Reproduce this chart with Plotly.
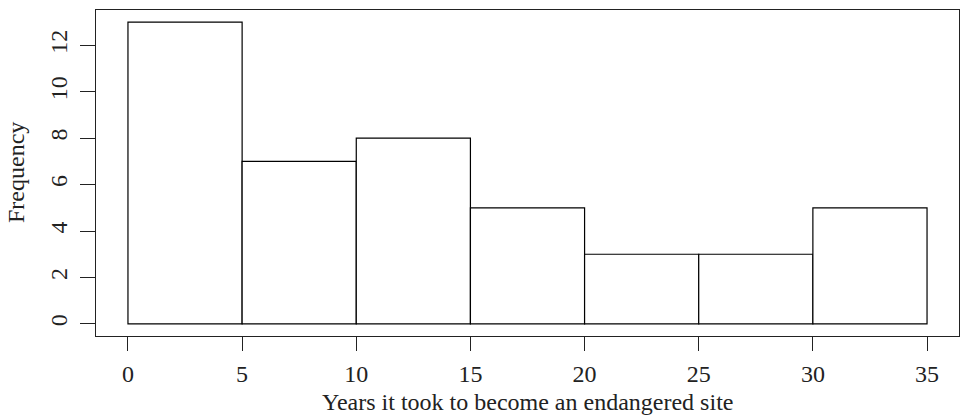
import plotly.graph_objects as go

bin_edges = [0, 5, 10, 15, 20, 25, 30, 35]
counts = [13, 7, 8, 5, 3, 3, 5]
x_ticks = [0, 5, 10, 15, 20, 25, 30, 35]
y_ticks = [0, 2, 4, 6, 8, 10, 12]
x_title = "Years it took to become an endangered site"
y_title = "Frequency"

centers = [(bin_edges[i] + bin_edges[i + 1]) / 2 for i in range(len(counts))]
widths = [bin_edges[i + 1] - bin_edges[i] for i in range(len(counts))]

FONT = "Liberation Serif, Times New Roman, serif"

fig = go.Figure(go.Bar(
    x=centers, y=counts, width=widths,
    marker=dict(color="white", line=dict(color="black", width=1.2)),
))

xr = [bin_edges[0] - 0.04 * (bin_edges[-1] - bin_edges[0]), bin_edges[-1] + 0.04 * (bin_edges[-1] - bin_edges[0])]
ymax = max(counts)
yr = [-0.04 * ymax, ymax * 1.04]

fig.update_layout(
    width=962, height=418,
    margin=dict(l=96, r=3, t=10, b=82, autoexpand=False),
    paper_bgcolor="white", plot_bgcolor="white",
    font=dict(family=FONT, size=24, color="#222222"),
    showlegend=False,
    xaxis=dict(range=xr, tickvals=x_ticks, ticks="outside", ticklen=14, tickwidth=1.2,
               tickcolor="#222222", showline=True, mirror=True, linecolor="#222222",
               linewidth=1.2, showgrid=False, zeroline=False, ticklabelstandoff=2,
               tickfont=dict(size=24)),
    yaxis=dict(range=yr, tickvals=y_ticks, ticks="outside", ticklen=15, tickwidth=1.2,
               tickcolor="#222222", showline=True, mirror=True, linecolor="#222222",
               linewidth=1.2, showgrid=False, zeroline=False, tickangle=-90,
               ticklabelstandoff=3, tickfont=dict(size=24)),
    annotations=[
        dict(text=x_title, xref="paper", yref="paper", x=0.5, y=-0.202,
             xanchor="center", yanchor="middle", showarrow=False,
             font=dict(size=24, family=FONT)),
        dict(text=y_title, xref="paper", yref="paper", x=(16 - 96) / 863, y=0.5,
             xanchor="center", yanchor="middle", textangle=-90, showarrow=False,
             font=dict(size=24, family=FONT)),
    ],
)

fig.write_html("out.html")
